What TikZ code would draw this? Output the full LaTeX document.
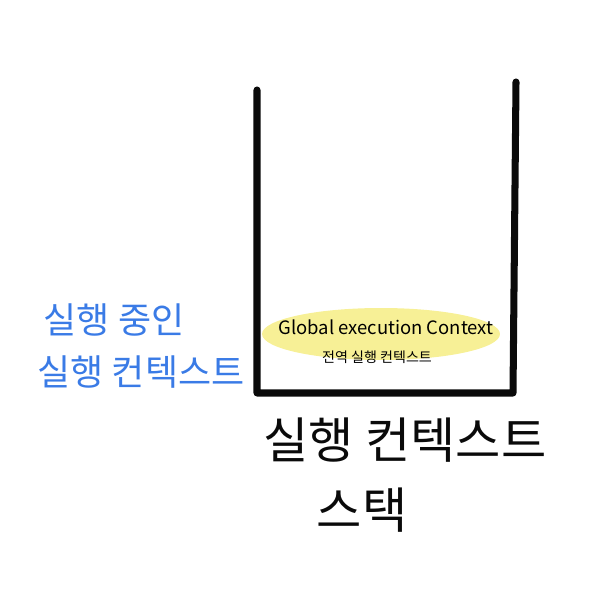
\documentclass[tikz,border=0pt]{standalone}
\usepackage{fontspec}
\usepackage{tikz}
\usepackage{xcolor}
\usetikzlibrary{shapes.geometric}
\newfontfamily\kofont{Noto Sans CJK KR}
\definecolor{stackblack}{RGB}{10,10,10}
\definecolor{hiyellow}{RGB}{247,240,150}
\definecolor{runblue}{RGB}{58,123,230}
\tikzset{
  wall/.style={line width=4pt, color=stackblack, line cap=round, line join=round},
  highlight/.style={ellipse, fill=hiyellow, minimum width=4.76cm,
                    minimum height=1.04cm, inner sep=0pt},
  bluetext/.style={font=\kofont\fontsize{20.5}{25}\selectfont, color=runblue},
  bigtext/.style={font=\kofont\fontsize{28}{33}\selectfont, color=stackblack},
}

\begin{document}
\begin{tikzpicture}[x=0.02cm, y=-0.02cm]
  \useasboundingbox (0,0) rectangle (608,604);

  % the stack
  \draw[wall] (257,90) -- (257,393) -- (513,393) -- (516,82);

  % global context inside the stack
  \node[highlight] (gecbg) at (381,334) {};
  \node[font=\kofont\fontsize{10.5}{13}\selectfont] (gec) at (386,327)
    {Global execution Context};
  \node[font=\kofont\fontsize{8}{10}\selectfont] (gecko) at (377,357)
    {전역 실행 컨텍스트};

  % running context label
  \node[bluetext] (run1) at (114,320) {실행 중인};
  \node[bluetext] (run2) at (141,372) {실행 컨텍스트};

  % stack label
  \node[bigtext] (stack1) at (405,440) {실행 컨텍스트};
  \node[bigtext] (stack2) at (362,510) {스택};
\end{tikzpicture}
\end{document}
